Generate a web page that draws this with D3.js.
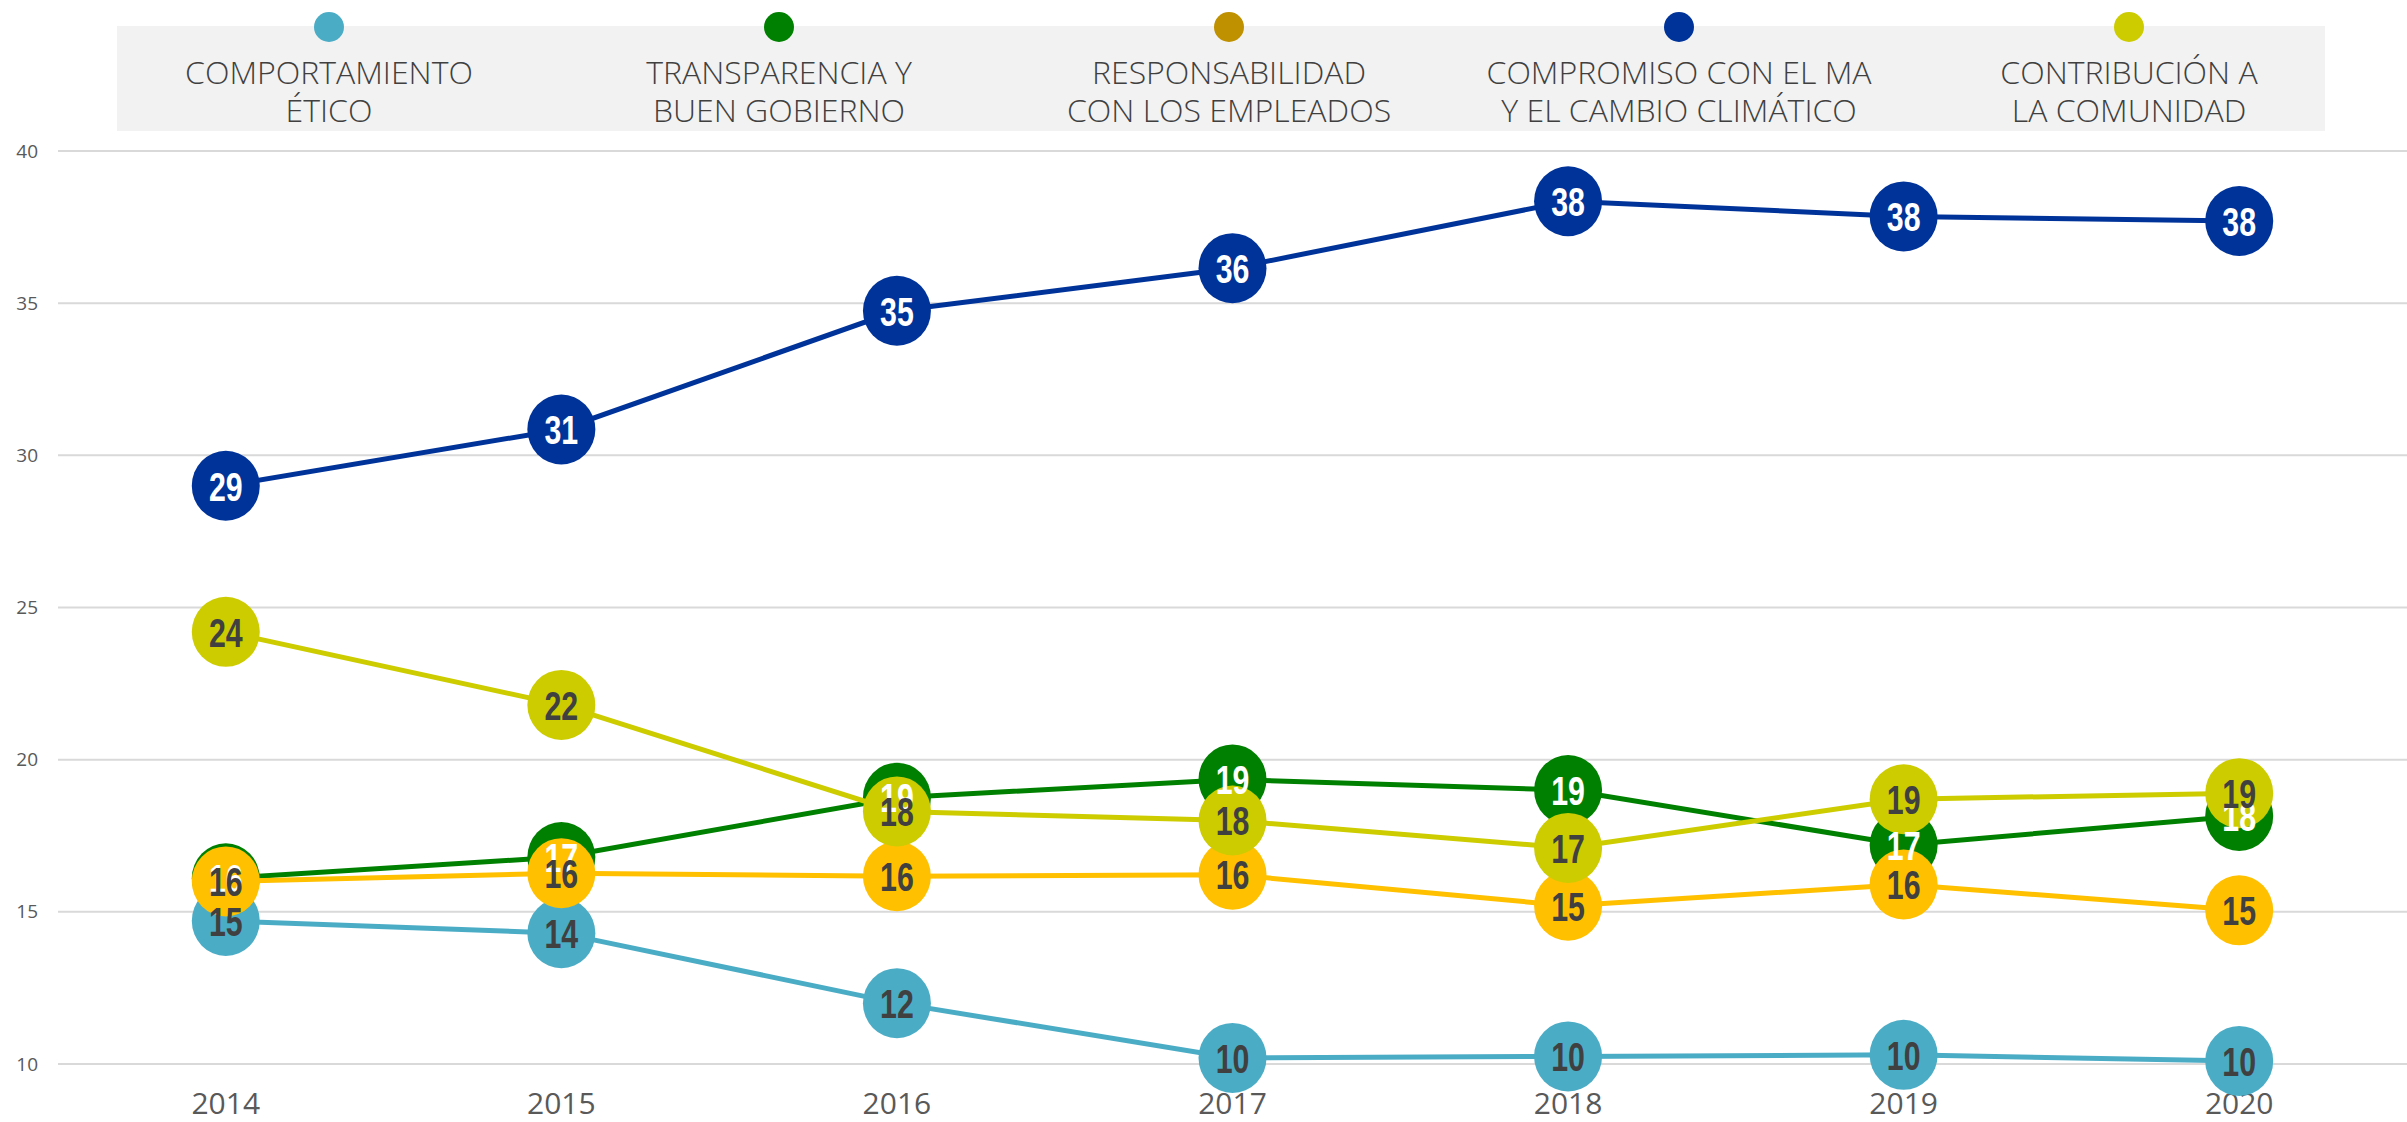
<!DOCTYPE html>
<html>
<head>
<meta charset="utf-8">
<script src="https://cdn.jsdelivr.net/npm/d3@7"></script>
<style>
  body { margin: 0; background: #fff; }
  svg { display: block; }
</style>
</head>
<body>
<svg id="chart" width="2407" height="1122"></svg>
<script>
// data
const years = ["2014", "2015", "2016", "2017", "2018", "2019", "2020"];
const yTicks = [10, 15, 20, 25, 30, 35, 40];

const seriesNames = [
	["COMPORTAMIENTO", "ÉTICO"],
	["TRANSPARENCIA Y", "BUEN GOBIERNO"],
	["RESPONSABILIDAD", "CON LOS EMPLEADOS"],
	["COMPROMISO CON EL MA", "Y EL CAMBIO CLIMÁTICO"],
	["CONTRIBUCIÓN A", "LA COMUNIDAD"]
];
const etico         = [14.7, 14.3, 12.0, 10.2, 10.25, 10.3, 10.1];
const transparencia = [16.1, 16.8, 18.75, 19.35, 19.0, 17.2, 18.15];
const responsab     = [16.0, 16.27, 16.17, 16.22, 15.2, 15.9, 15.05];
const compromiso    = [29.0, 30.85, 34.75, 36.15, 38.35, 37.85, 37.7];
const comunidad     = [24.2, 21.8, 18.3, 18.0, 17.1, 18.7, 18.9];

const lineColors   = ["#4BACC6", "#008000", "#FFC000", "#003399", "#CCCC00"];
const legendColors = ["#4BACC6", "#008000", "#BF9000", "#003399", "#CCCC00"];
const labelColors  = ["#404040", "#FFFFFF", "#404040", "#FFFFFF", "#404040"];

const allSeries = [etico, transparencia, responsab, compromiso, comunidad];

const svg = d3.select('#chart');
const width = 2407, height = 1122;
const margin = {left: 58, right: 0, top: 151, bottom: 58};

const x = d3.scalePoint()
	.domain(years)
	.range([margin.left, width - margin.right])
	.padding(0.5);

const y = d3.scaleLinear()
	.domain([10, 40])
	.range([1064, 151]);

// gridlines
svg.append('g')
	.selectAll('line')
	.data(yTicks)
	.enter().append('line')
		.attr('x1', margin.left)
		.attr('x2', width)
		.attr('y1', d => y(d))
		.attr('y2', d => y(d))
		.attr('stroke', '#D9D9D9')
		.attr('stroke-width', 2);

// y axis labels
svg.append('g')
	.selectAll('text')
	.data(yTicks)
	.enter().append('text')
		.attr('x', 38)
		.attr('y', d => y(d))
		.attr('dy', '0.35em')
		.attr('text-anchor', 'end')
		.attr('font-family', 'Open Sans, sans-serif')
		.attr('font-size', 19)
		.attr('fill', '#595959')
		.text(d => d);

// x axis labels
svg.append('g')
	.selectAll('text')
	.data(years)
	.enter().append('text')
		.attr('x', d => x(d))
		.attr('y', 1103)
		.attr('dy', '0.35em')
		.attr('text-anchor', 'middle')
		.attr('font-family', 'Open Sans, sans-serif')
		.attr('font-size', 30)
		.attr('fill', '#595959')
		.text(d => d);

// legend
const legend = svg.append('g');
legend.append('rect')
	.attr('x', 117)
	.attr('y', 26)
	.attr('width', 2325 - 117)
	.attr('height', 105)
	.attr('fill', '#F2F2F2');

const legendItems = legend.selectAll('.legend-item')
	.data(seriesNames)
	.enter().append('g')
		.attr('class', 'legend-item')
		.attr('transform', (d, i) => `translate(${329 + 450 * i},0)`);

legendItems.append('circle')
	.attr('cx', 0)
	.attr('cy', 27)
	.attr('r', 15)
	.attr('fill', (d, i) => legendColors[i]);

legendItems.selectAll('text')
	.data(d => d)
	.enter().append('text')
		.attr('x', 0)
		.attr('y', (d, j) => 73 + j * 38)
		.attr('dy', '0.35em')
		.attr('text-anchor', 'middle')
		.attr('font-family', 'Open Sans, sans-serif')
		.attr('font-weight', 300)
		.attr('font-size', 32)
		.attr('fill', '#404040')
		.text(d => d);

// lines and markers
const line = d3.line()
	.x((d, i) => x(years[i]))
	.y(d => y(d));

const plot = svg.append('g');
allSeries.forEach((values, s) => {
	plot.append('path')
		.datum(values)
		.attr('d', line)
		.attr('fill', 'none')
		.attr('stroke', lineColors[s])
		.attr('stroke-width', 5);
	plot.selectAll('.marker-' + s)
		.data(values)
		.enter().append('ellipse')
			.attr('class', 'marker-' + s)
			.attr('cx', (d, i) => x(years[i]))
			.attr('cy', d => y(d))
			.attr('rx', 34)
			.attr('ry', 35)
			.attr('fill', lineColors[s]);
});

// value labels on top
const labels = svg.append('g');
allSeries.forEach((values, s) => {
	labels.selectAll('.label-' + s)
		.data(values)
		.enter().append('text')
			.attr('class', 'label-' + s)
			.attr('transform', (d, i) => `translate(${x(years[i])},${y(d)}) scale(0.74,1)`)
			.attr('dy', '0.36em')
			.attr('text-anchor', 'middle')
			.attr('font-family', 'Liberation Sans Narrow, Arial Narrow, sans-serif')
			.attr('font-weight', 'bold')
			.attr('font-size', 41)
			.attr('fill', labelColors[s])
			.text(d => Math.round(d));
});
</script>
</body>
</html>
